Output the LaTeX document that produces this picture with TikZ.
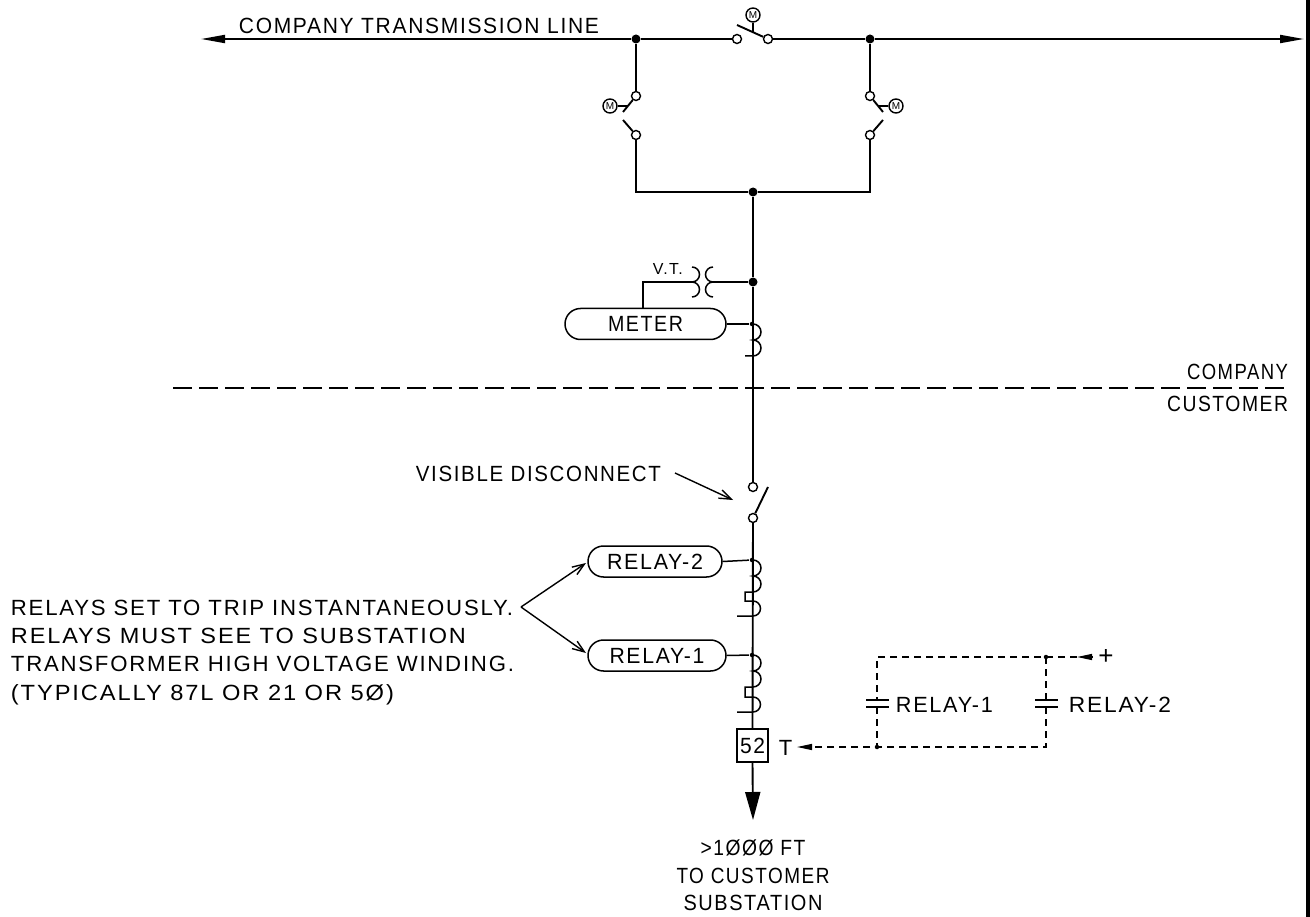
\documentclass[tikz,border=0pt]{standalone}
\usepackage{fontspec}
\usepackage{graphicx}
\setmainfont{Liberation Sans}
\newfontfamily\cad[LetterSpace=8]{Liberation Sans}
\newcommand\cadf[1]{\cad\fontsize{#1}{#1}\selectfont}
\newcommand\fitto[2]{\resizebox{#1}{\height}{#2}}
\usetikzlibrary{arrows.meta}
\begin{document}
\begin{tikzpicture}[x=1pt,y=-1pt,line width=1.9pt,
  wire/.style={line width=1.9pt},
  thinw/.style={line width=1.5pt},
  ctrl/.style={line width=1.3pt,dash pattern=on 7pt off 5pt},
  sepline/.style={line width=1.3pt,dash pattern=on 19pt off 7pt},
  jdot/.style={circle,fill,inner sep=0pt,minimum size=9pt},
  sdot/.style={circle,fill,inner sep=0pt,minimum size=4.5pt},
  contact/.style={circle,draw,fill=white,inner sep=0pt,minimum size=9pt,line width=1.4pt},
  motor/.style={circle,draw,inner sep=0pt,minimum size=14pt,line width=1.4pt,font=\cadf{10}},
  pill/.style={draw,rounded corners=15.5pt,minimum height=31pt,inner sep=0pt,line width=1.5pt,font=\cadf{22}},
  lbl/.style={inner sep=0pt,font=\cadf{22}},
  bigtip/.style={-{Triangle[length=24pt,width=8pt]}},
  barb/.style={line width=1.4pt,-{Straight Barb[length=12pt,width=9pt]}},
  ctip/.style={-{Triangle[length=15pt,width=6pt]}}
]
\useasboundingbox (0,0) rectangle (1310,917);
\fill (1306,0) rectangle (1310,917);

% ---------- transmission line ----------
\coordinate (Lend) at (201,39);
\coordinate (Rend) at (1304,39);
\node[jdot] (J1) at (636,39) {};
\node[jdot] (J2) at (870,39) {};
\node[contact] (S0a) at (737,39) {};
\node[contact] (S0b) at (768,39) {};
\coordinate (B0) at (737,25);
\draw[wire] (J1) -- (S0a);
\draw[wire,bigtip] (J1) -- (Lend);
\draw[wire] (S0b) -- (J2);
\draw[wire,bigtip] (J2) -- (Rend);
\draw[wire] (S0b) -- (B0);
\node[motor] (M0) at (753,15) {M};
\coordinate (M0s) at (753,32);
\draw[thinw] (M0) -- (M0s);
\node[lbl,anchor=base west] (tline) at (238,34) {\fitto{360pt}{COMPANY TRANSMISSION LINE}};

% ---------- left branch ----------
\node[contact] (SLa) at (636,96) {};
\node[contact] (SLb) at (636,135) {};
\coordinate (BLa) at (623,112);
\coordinate (BLb) at (623,120);
\coordinate (BLm) at (628,106);
\draw[wire] (J1) -- (SLa);
\draw[wire] (SLa) -- (BLa);
\draw[wire] (BLb) -- (SLb);
\node[motor] (ML) at (610,106) {M};
\draw[thinw] (ML) -- (BLm);

% ---------- right branch ----------
\node[contact] (SRa) at (870,96) {};
\node[contact] (SRb) at (870,135) {};
\coordinate (BRa) at (883,112);
\coordinate (BRb) at (883,120);
\coordinate (BRm) at (878,106);
\draw[wire] (J2) -- (SRa);
\draw[wire] (SRa) -- (BRa);
\draw[wire] (BRb) -- (SRb);
\node[motor] (MR) at (896,106) {M};
\draw[thinw] (MR) -- (BRm);

% ---------- bus below ----------
\node[jdot] (J3) at (753,192) {};
\draw[wire] (SLb) -- (636,192) -- (J3) -- (870,192) -- (SRb);

% ---------- VT and meter ----------
\node[jdot] (JVT) at (753,282) {};
\node[contact] (D1) at (753,487) {};
\node[contact] (D2) at (753,518) {};
\draw[wire] (J3) -- (JVT) -- (D1);
\coordinate (VTr) at (713,282);
\coordinate (VTl) at (692,282);
\draw[thinw] (713,267) arc[start angle=-90,end angle=-270,radius=7.5]
                        arc[start angle=-90,end angle=-270,radius=7.5];
\draw[thinw] (692,267) arc[start angle=-90,end angle=90,radius=7.5]
                        arc[start angle=-90,end angle=90,radius=7.5];
\draw[thinw] (JVT) -- (VTr);
\node[inner sep=0pt,font=\cadf{16},anchor=base west] (vt) at (652,275) {V.T.};
\node[pill,minimum width=161pt] (meter) at (645.5,324) {\fitto{75pt}{METER}};
\draw[thinw] (VTl) -- (643,282) -- (643,308);
\node[sdot] (CTm) at (752,324) {};
\draw[thinw] (meter.east) -- (CTm);
\draw[thinw] (753,324) arc[start angle=-90,end angle=90,radius=8]
                        arc[start angle=-90,end angle=90,radius=8] -- (745,356);

% ---------- separator ----------
\draw[sepline] (173,388) -- (1290,388);
\node[lbl,anchor=base east] (comp) at (1289,380) {\fitto{101pt}{COMPANY}};
\node[lbl,anchor=base east] (cust) at (1289,411) {\fitto{121pt}{CUSTOMER}};

% ---------- visible disconnect ----------
\coordinate (BD) at (768,487);
\draw[wire] (D2) -- (BD);
\node[lbl,anchor=base west] (vis) at (415,481) {\fitto{245pt}{VISIBLE DISCONNECT}};
\coordinate (visA) at (675,473);
\coordinate (visB) at (733,500);
\draw[barb] (visA) -- (visB);

% ---------- relays ----------
\node[pill,minimum width=134pt] (r2) at (655,561.5) {\fitto{96pt}{RELAY-2}};
\node[pill,minimum width=138pt] (r1) at (657,655.5) {\fitto{95pt}{RELAY-1}};
\node[sdot] (CT2) at (752,560) {};
\node[sdot] (CT1) at (752,655) {};
\draw[thinw] (r2.east) -- (CT2);
\draw[thinw] (r1.east) -- (CT1);
\draw[thinw] (753,560) arc[start angle=-90,end angle=90,radius=8]
                        arc[start angle=-90,end angle=90,radius=8]
                        -- (745,592) -- (745,601) -- (753,601)
                        arc[start angle=-90,end angle=90,radius=7.5] -- (737,616);
\draw[thinw] (753,655) arc[start angle=-90,end angle=90,radius=8]
                        arc[start angle=-90,end angle=90,radius=8]
                        -- (745,687) -- (745,697) -- (753,697)
                        arc[start angle=-90,end angle=90,radius=7.5] -- (737,712);

\coordinate (apex) at (521,607);
\coordinate (tip2) at (586,563);
\coordinate (tip1) at (586,653);
\draw[barb] (apex) -- (tip2);
\draw[barb] (apex) -- (tip1);
\node[lbl,anchor=base west] (n1) at (10,615) {\fitto{502pt}{RELAYS SET TO TRIP INSTANTANEOUSLY.}};
\node[lbl,anchor=base west] (n2) at (10,643) {\fitto{455pt}{RELAYS MUST SEE TO SUBSTATION}};
\node[lbl,anchor=base west] (n3) at (10,671) {\fitto{503pt}{TRANSFORMER HIGH VOLTAGE WINDING.}};
\node[lbl,anchor=base west] (n4) at (10,700) {\fitto{383pt}{(TYPICALLY 87L OR 21 OR 5Ø)}};

% ---------- breaker ----------
\node[draw,thinw,minimum width=31pt,minimum height=33pt,inner sep=0pt,font=\cadf{22}] (cb) at (752.5,745.5) {\fitto{25pt}{52}};
\coordinate (down) at (753,820);
\draw[wire] (D2) -- (cb.north);
\draw[wire,-{Triangle[length=28pt,width=15pt]}] (cb.south) -- (down);
\node[lbl,anchor=base] (b1) at (753,855) {\fitto{105pt}{>1ØØØ FT}};
\node[lbl,anchor=base] (b2) at (753,883) {\fitto{153pt}{TO CUSTOMER}};
\node[lbl,anchor=base] (b3) at (753,910) {\fitto{139pt}{SUBSTATION}};

% ---------- trip circuit ----------
\coordinate (Ptl) at (877,657);
\node[sdot] (Ptr) at (1046,657) {};
\node[sdot] (Pbl) at (877,747) {};
\coordinate (Pbr) at (1046,747);
\coordinate (PT) at (797,747);
\coordinate (Pa) at (1077,657);
\coordinate (Pb) at (1092,657);
\coordinate (c1t) at (877,700);
\coordinate (c1b) at (877,707);
\coordinate (c2t) at (1046,700);
\coordinate (c2b) at (1046,707);
\draw[ctrl] (Pa) -- (Ptr.center) -- (Ptl) -- (c1t);
\draw[ctrl] (c1b) -- (Pbl.center);
\draw[ctrl] (Ptr.center) -- (c2t);
\draw[ctrl,ctip] (c2b) -- (Pbr) -- (PT);
\draw[line width=1.3pt,ctip] (Pb) -- (Pa);
\draw[thinw] (866,700) -- (889,700) (866,707) -- (889,707);
\draw[thinw] (1035,700) -- (1058,700) (1035,707) -- (1058,707);
\node[lbl,anchor=base west] (rl1) at (895,712) {\fitto{97pt}{RELAY-1}};
\node[lbl,anchor=base west] (rl2) at (1068,712) {\fitto{102pt}{RELAY-2}};
\node[inner sep=0pt,font=\fontsize{26}{26}\selectfont] (plus) at (1106,657) {+};
\node[lbl,anchor=base west] (Tl) at (778,755) {T};
\end{tikzpicture}
\end{document}
